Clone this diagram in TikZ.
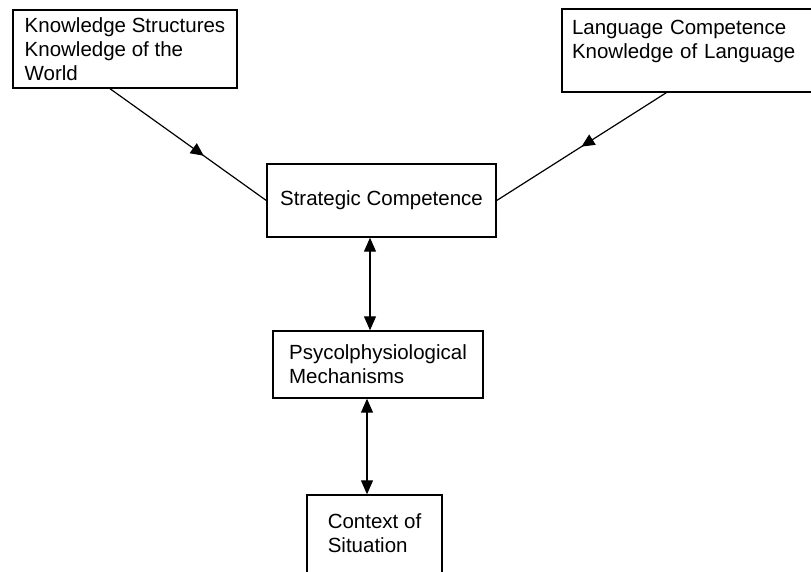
\documentclass[tikz,border=0pt]{standalone}
\usepackage{fontspec}
\setmainfont{Liberation Sans}
\usetikzlibrary{arrows.meta,decorations.markings}
\begin{document}
\begin{tikzpicture}[x=1pt, y=-1pt,
  box/.style={draw, line width=1.4pt, align=left, inner xsep=0pt, inner ysep=0pt, font=\fontsize{20.5}{24}\selectfont},
  link/.style={line width=1.2pt},
  midarrow/.style={link, decoration={markings, mark=at position #1 with {\arrow{Triangle[length=13pt,width=12pt]}}}, postaction={decorate}},
  biarrow/.style={link, arrows={Triangle[length=14pt,width=12pt]-Triangle[length=14pt,width=12pt]}}]
\useasboundingbox (0,0) rectangle (811,572);
\clip (0,0) rectangle (811,572);
%boxes:
\node[box, minimum width=224pt, minimum height=78pt] (know) at (125,49) {Knowledge Structures\\Knowledge of the\\World};
\node[box, inner xsep=10pt, text width=250pt, minimum height=83pt] (lang) at (697,50.5) {\strut\\[-18pt]Language Competence\\Knowledge of Language\\\strut};
\node[box, minimum width=229pt, minimum height=73pt] (strat) at (381.5,200.5) {Strategic Competence};
\node[box, minimum width=210pt, minimum height=67pt] (psy) at (378,364.5) {Psycolphysiological\\Mechanisms};
\node[box, minimum width=135pt, minimum height=108pt] (ctx) at (374.5,549) {Context of\\Situation\\\strut};
%links to strategic competence:
\draw[midarrow=0.6] ([xshift=-15pt]know.south) -- (strat.west);
\draw[midarrow=0.5] ([xshift=105pt]lang.south west) -- (strat.east);
%vertical links:
\draw[biarrow] ([xshift=-8pt]psy.north |- strat.south) -- ([xshift=-8pt]psy.north);
\draw[biarrow] ([xshift=-11pt]psy.south) -- ([xshift=-11pt]psy.south |- ctx.north);
\end{tikzpicture}
\end{document}
